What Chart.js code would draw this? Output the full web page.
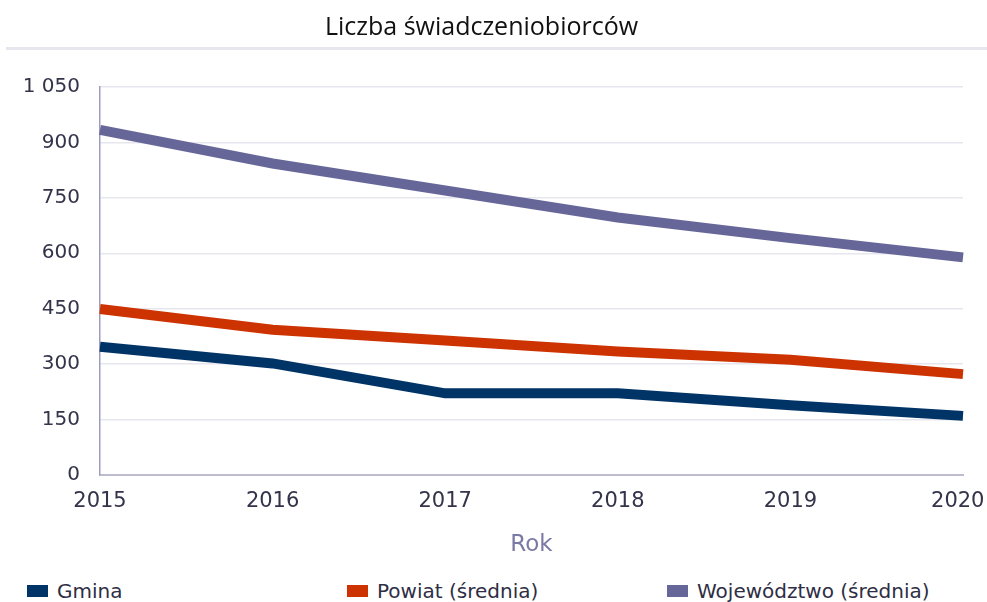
<!DOCTYPE html>
<html>
<head>
<meta charset="utf-8">
<script src="https://cdn.jsdelivr.net/npm/chart.js@4"></script>
<style>
  body { margin: 0; background: #fff; font-family: "DejaVu Sans", Verdana, sans-serif; }
  #wrap { position: relative; width: 987px; height: 602px; overflow: hidden; }
  #box { position: absolute; left: 0; top: 0; width: 987px; height: 565px; }
  #rule { position: absolute; left: 6px; right: 0; top: 47px; height: 0; border-top: 3px solid #e6e6ec; }
  #legenda { position: absolute; top: 579px; left: 27px; width: 960px; display: flex; font-size: 20px; color: #2e2e44; line-height: 24px; }
  #legenda div { display: flex; align-items: center; }
  #legenda span.kw { display: inline-block; width: 21px; height: 12px; margin-right: 9px; }
</style>
</head>
<body>
<div id="wrap">
  <div id="box"><canvas id="grafico"></canvas></div>
  <div id="rule"></div>
  <div id="legenda"></div>
</div>
<script>
const lata = ['2015', '2016', '2017', '2018', '2019', '2020'];
const gmina = [347, 302, 221, 221, 189, 160];
const powiat = [449, 393, 364, 334, 312, 273];
const wojewodztwo = [934, 843, 770, 697, 641, 589];
const ticksY = [0, 150, 300, 450, 600, 750, 900, 1050];

const serie = [
  { nome: 'Gmina', dados: gmina, cor: '#003366' },
  { nome: 'Powiat (średnia)', dados: powiat, cor: '#cc3300' },
  { nome: 'Województwo (średnia)', dados: wojewodztwo, cor: '#666699' }
];

const fonte = '"DejaVu Sans", Verdana, sans-serif';

const formatar = v => {
  const s = String(v);
  return s.length > 3 ? s.slice(0, -3) + ' ' + s.slice(-3) : s;
};

const ctx = document.getElementById('grafico').getContext('2d');
const grafico = new Chart(ctx, {
  type: 'line',
  data: {
    labels: lata,
    datasets: serie.map(s => ({
      label: s.nome,
      data: s.dados,
      borderColor: s.cor,
      backgroundColor: s.cor,
      borderWidth: 10,
      pointRadius: 0,
      tension: 0,
      borderCapStyle: 'butt'
    }))
  },
  options: {
    responsive: true,
    maintainAspectRatio: false,
    animation: false,
    layout: { padding: { left: 0, right: 24, top: 0, bottom: 0 } },
    plugins: {
      legend: { display: false },
      tooltip: { enabled: false },
      title: {
        display: true,
        text: 'Liczba świadczeniobiorców',
        color: '#111111',
        font: { family: '"Open Sans", "Noto Sans", sans-serif', size: 25, weight: 'normal', lineHeight: 1.2 },
        padding: { top: 13, bottom: 44 }
      }
    },
    scales: {
      x: {
        grid: { drawOnChartArea: false, drawTicks: false },
        border: { display: true, color: '#bdbdcf', width: 2 },
        ticks: {
          color: '#33334a',
          padding: 14,
          maxRotation: 0,
          font: { family: fonte, size: 21 },
          // ostatnia etykieta lekko w lewo, żeby się zmieściła
          callback: (v, i) => i === lata.length - 1 ? lata[i] + '\u2002' : lata[i]
        },
        title: {
          display: true,
          text: 'Rok',
          color: '#7a7aa6',
          font: { family: fonte, size: 23 },
          padding: { top: 10, bottom: 6 }
        },
        afterFit: s => { s.height = 90; s.paddingLeft = 0; s.paddingRight = 0; }
      },
      y: {
        min: 0,
        max: 1050,
        afterBuildTicks: s => { s.ticks = ticksY.map(v => ({ value: v })); },
        grid: { color: '#e6e6ef', lineWidth: 1.5, drawTicks: false },
        border: { display: true, color: '#9d9dc2', width: 1.5 },
        ticks: {
          color: '#33334a',
          padding: 20,
          font: { family: fonte, size: 20 },
          callback: v => formatar(v)
        },
        afterFit: s => { s.width = 100; s.paddingTop = 0; s.paddingBottom = 0; }
      }
    }
  }
});

const legenda = document.getElementById('legenda');
serie.forEach(s => {
  const item = document.createElement('div');
  item.style.width = '320px';
  item.innerHTML = `<span class="kw" style="background:${s.cor}"></span>${s.nome}`;
  legenda.appendChild(item);
});
</script>
</body>
</html>
